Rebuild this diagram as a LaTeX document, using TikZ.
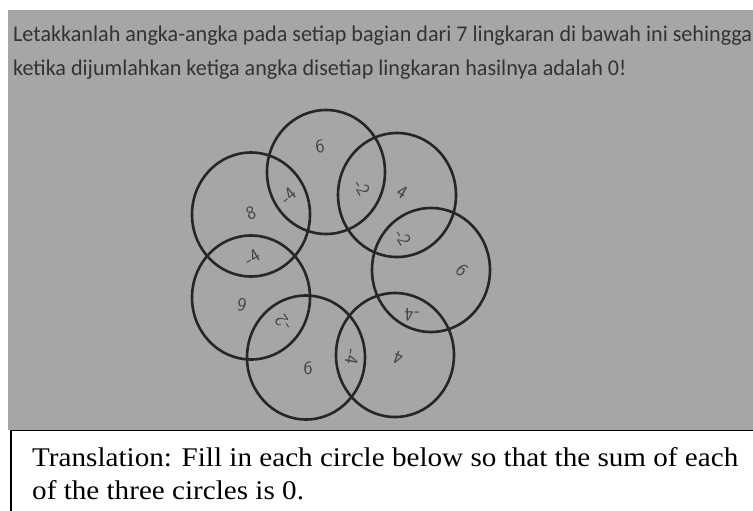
\documentclass[tikz,border=0pt]{standalone}
\usepackage{fontspec}
\newfontfamily\calib{Carlito}
\newfontfamily\tnr{Liberation Serif}
\definecolor{photo}{HTML}{A6A6A6}
\definecolor{ink}{HTML}{262626}
\definecolor{pencil}{HTML}{454545}
\definecolor{ptext}{HTML}{333333}
\newcommand{\lineA}{Letakkanlah angka-angka pada setiap bagian dari 7 lingkaran di bawah ini sehingga}
\newcommand{\lineB}{ketika dijumlahkan ketiga angka disetiap lingkaran hasilnya adalah 0!}
\newcommand{\lineC}{Translation: Fill in each circle below so that the sum of each}
\newcommand{\lineD}{of the three circles is 0.}
\newsavebox\boxA
\newsavebox\boxC
\tikzset{
  ring/.style={draw=ink, line width=2.6pt},
  hand/.style={text=pencil, font=\sffamily\fontsize{19}{19}\selectfont, inner sep=0pt},
  phototext/.style={text=ptext, font=\calib\fontsize{22.5}{25}\selectfont, anchor=base west, inner sep=0pt},
  boxtext/.style={text=black, font=\tnr\fontsize{27}{30}\selectfont, anchor=base west, inner sep=0pt},
}
\begin{document}
\sbox\boxA{\calib\fontsize{22.5}{25}\selectfont\lineA}%
\sbox\boxC{\tnr\fontsize{27}{30}\selectfont\lineC}%
\pgfmathsetmacro\sA{739/\the\wd\boxA}%
\pgfmathsetmacro\sC{706/\the\wd\boxC}%
\begin{tikzpicture}[x=1pt,y=-1pt]
\useasboundingbox (0,0) rectangle (753,511);
\fill[white] (0,0) rectangle (753,511);
% photo
\fill[photo] (8,10) rectangle (753,429.5);
\node[phototext, xscale=\sA] (t1) at (13,42) {\lineA};
\node[phototext, xscale=\sA] (t2) at (13,76) {\lineB};
% seven circles
\draw[ring] (326,172) ellipse [x radius=59, y radius=62];
\draw[ring] (251,214.5) ellipse [x radius=59, y radius=62];
\draw[ring] (251,297.5) ellipse [x radius=59, y radius=62];
\draw[ring] (306,357.5) ellipse [x radius=59, y radius=62];
\draw[ring] (395,355) ellipse [x radius=59, y radius=62];
\draw[ring] (431,270) ellipse [x radius=59, y radius=62];
\draw[ring] (397,195) ellipse [x radius=59, y radius=62];
% handwritten numbers
\node[hand, rotate=10] (n1) at (320,147) {6};
\node[hand, rotate=40] (n2) at (288,196) {-4};
\node[hand, rotate=-60] (n3) at (362,188) {-2};
\node[hand, rotate=20] (n4) at (251,213) {8};
\node[hand, rotate=30] (n5) at (252,257) {-4};
\node[hand, rotate=170] (n6) at (242,305) {6};
\node[hand, rotate=125] (n7) at (283,323) {-2};
\node[hand] (n8) at (308,368) {6};
\node[hand, rotate=-100] (n9) at (352,357) {-4};
\node[hand, rotate=160] (n10) at (398,358) {4};
\node[hand, rotate=180] (n11) at (412,315) {-4};
\node[hand, rotate=-45] (n12) at (462,270) {6};
\node[hand, rotate=-60] (n13) at (403,238) {-2};
\node[hand, rotate=-30] (n14) at (402,192) {4};
% translation box
\draw[black, line width=1.5pt] (10,430.5) -- (753,430.5);
\draw[black, line width=2pt] (11,430) -- (11,511);
\node[boxtext, xscale=\sC] (b1) at (32,466) {\lineC};
\node[boxtext, xscale=\sC] (b2) at (32,499) {\lineD};
\end{tikzpicture}
\end{document}
